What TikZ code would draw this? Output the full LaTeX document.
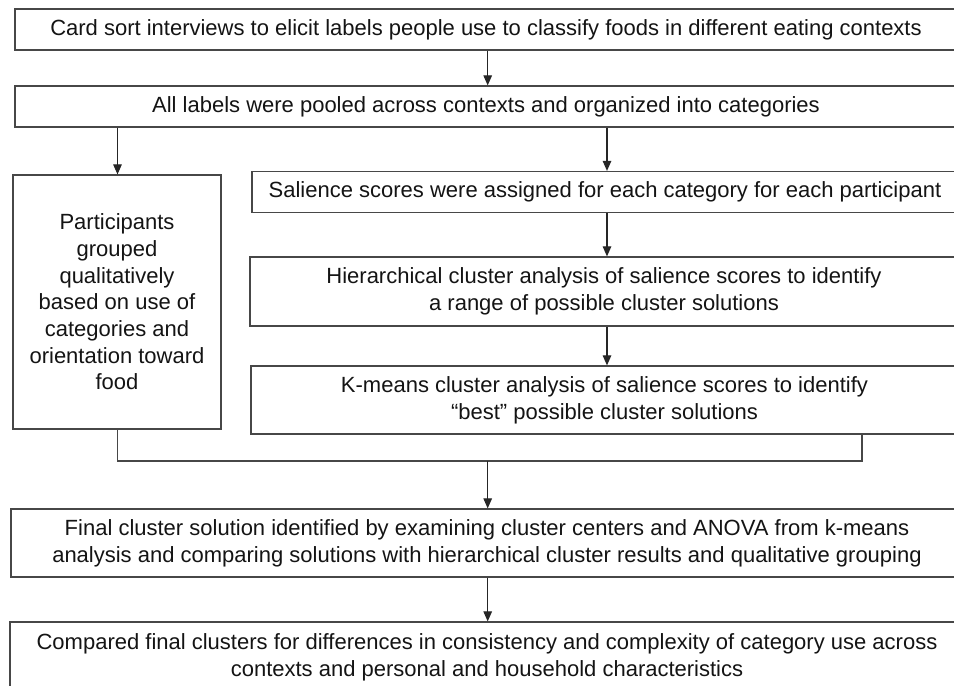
\documentclass[tikz,border=0pt]{standalone}
\usepackage{fontspec}
\setmainfont{Liberation Sans}
\usetikzlibrary{arrows.meta}
\begin{document}
\begin{tikzpicture}[x=1pt,y=-1pt,
  box/.style={draw=black!72, line width=1.2pt, align=center, inner sep=0pt,
    text=black!92, font=\fontsize{22}{26.7}\selectfont},
  arr/.style={draw=black!85, line width=1.1pt, -{Triangle[length=10pt,width=8.5pt]}},
  conn/.style={draw=black!72, line width=1.2pt}]
\useasboundingbox (0,0) rectangle (954,686);
\clip (0,0) rectangle (954,686);
\fill[white] (0,0) rectangle (954,686);

\node[box, minimum width=942pt, minimum height=41pt] (top) at (486,29.5)
  {Card sort interviews to elicit labels people use to classify foods in different eating contexts};
\node[box, minimum width=942pt, minimum height=41pt] (pool) at (486,106.5)
  {All labels were pooled across contexts and organized into categories};
\node[box, minimum width=208pt, minimum height=254pt] (qual) at (117,302)
  {Participants\\grouped\\qualitatively\\based on use of\\categories and\\orientation toward\\food};
\node[box, minimum width=706pt, minimum height=41pt] (sal) at (605,192)
  {Salience scores were assigned for each category for each participant};
\node[box, minimum width=708pt, minimum height=69pt] (hier) at (604,291.5)
  {Hierarchical cluster analysis of salience scores to identify\\a range of possible cluster solutions};
\node[box, minimum width=707pt, minimum height=68pt] (km) at (604.5,400)
  {K-means cluster analysis of salience scores to identify\\``best'' possible cluster solutions};
\node[box, minimum width=952pt, minimum height=68pt] (final) at (487,543)
  {Final cluster solution identified by examining cluster centers and ANOVA from k-means\\analysis and comparing solutions with hierarchical cluster results and qualitative grouping};
\node[box, minimum width=954pt, minimum height=71pt] (last) at (487,657.5)
  {Compared final clusters for differences in consistency and complexity of category use across\\contexts and personal and household characteristics};

\coordinate (xa) at (487.7,0);
\coordinate (xl) at (117.5,0);
\coordinate (xr) at (607,0);
\coordinate (xk) at (862,0);
\coordinate (yj) at (0,461);

\draw[arr] (xa |- top.south) -- (xa |- pool.north);
\draw[arr] (xl |- pool.south) -- (xl |- qual.north);
\draw[arr] (xr |- pool.south) -- (xr |- sal.north);
\draw[arr] (xr |- sal.south) -- (xr |- hier.north);
\draw[arr] (xr |- hier.south) -- (xr |- km.north);
\draw[conn] (xl |- qual.south) -- (xl |- yj) -- (xk |- yj) -- (xk |- km.south);
\draw[arr] (xa |- yj) -- (xa |- final.north);
\draw[arr] (xa |- final.south) -- (xa |- last.north);
\end{tikzpicture}
\end{document}
